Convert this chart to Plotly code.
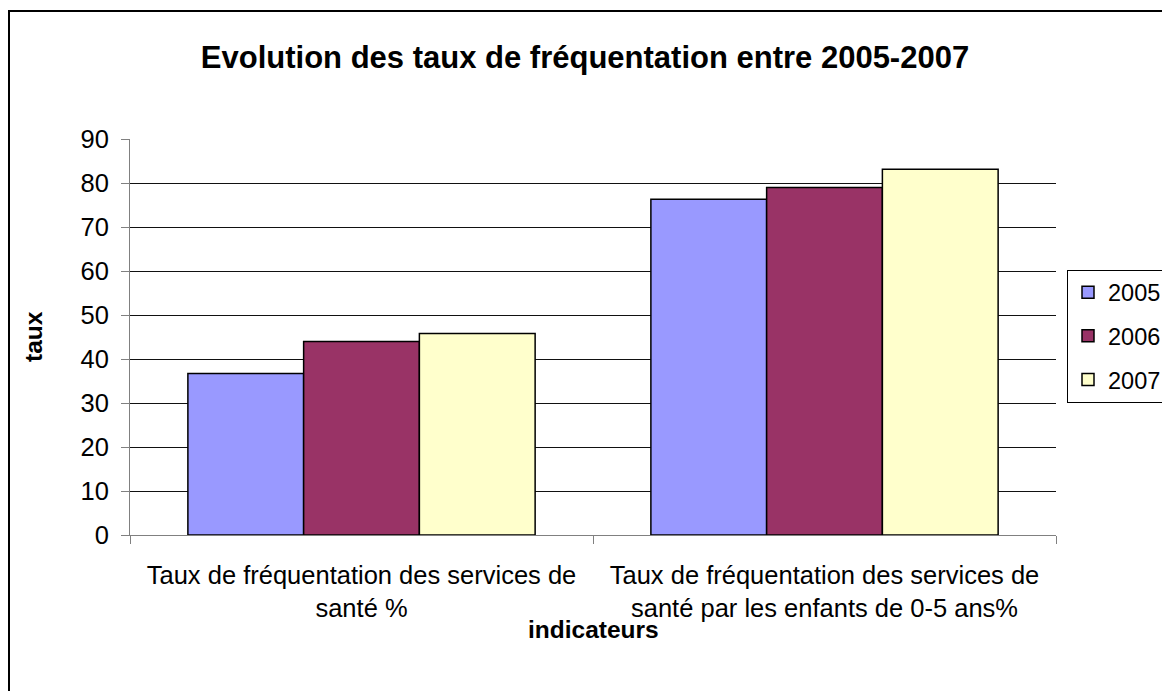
import plotly.graph_objects as go

categories = [
    "Taux de fréquentation des services de<br>santé %",
    "Taux de fréquentation des services de<br>santé par les enfants de 0-5 ans%",
]
years = ["2005", "2006", "2007"]
values_2005 = [36.7, 76.3]
values_2006 = [44.0, 79.0]
values_2007 = [45.8, 83.1]
colors = ["#9999FF", "#993366", "#FFFFCC"]
y_ticks = [0, 10, 20, 30, 40, 50, 60, 70, 80, 90]

FONT = "Liberation Sans, Arial, sans-serif"

fig = go.Figure()
for name, vals, col in zip(years, [values_2005, values_2006, values_2007], colors):
    fig.add_trace(go.Bar(
        x=categories, y=vals, name=name, legendgroup=name,
        marker=dict(color=col, line=dict(color="black", width=1.5)),
    ))

# page offset (browser body margin)
OFF = 8
PAGE_W, PAGE_H = 1170, 691
W, H = PAGE_W - OFF, PAGE_H - OFF
# plot area in page pixels
PL, PR, PT, PB = 130, 1056, 139, 535
L, R, T, B = PL - OFF, W - (PR - OFF), PT - OFF, H - (PB - OFF)
pw, ph = PR - PL, PB - PT

def px_x(p):
    return (p - PL) / pw

def px_y(p):
    return (PB - p) / ph

fig.update_layout(
    width=W, height=H,
    margin=dict(l=L, r=R, t=T, b=B, autoexpand=False),
    paper_bgcolor="white", plot_bgcolor="white",
    font=dict(family=FONT, size=25.5, color="black"),
    barmode="group", bargap=0.25, bargroupgap=0,
    title=dict(
        text="Evolution des taux de fréquentation entre 2005-2007",
        font=dict(size=31, weight="bold", family=FONT, color="black"),
        x=(585 - OFF) / W, xanchor="center", xref="container",
        y=1 - (57 - OFF) / H, yanchor="middle", yref="container",
    ),
    xaxis=dict(
        range=[-0.5, 1.5], showgrid=False, showline=True, linecolor="#808080",
        linewidth=1, ticks="outside", ticklen=8, tickcolor="#808080",
        tickson="boundaries", ticklabelstandoff=17,
        tickfont=dict(size=25.5),
    ),
    yaxis=dict(
        range=[0, 90], tickvals=y_ticks, showgrid=True, gridcolor="#111111",
        gridwidth=1, showline=True, linecolor="#808080", linewidth=1,
        ticks="outside", ticklen=8, tickcolor="#808080",
        ticklabelstandoff=7, zeroline=False, tickfont=dict(size=25.5),
    ),
    legend=dict(
        x=px_x(1067), xanchor="left", y=px_y(336), yanchor="middle",
        bordercolor="black", borderwidth=1, bgcolor="white",
        font=dict(size=23.5), traceorder="grouped", tracegroupgap=10,
    ),
    annotations=[
        dict(text="indicateurs", xref="paper", yref="paper",
             x=px_x(593), y=px_y(629), xanchor="center", yanchor="middle",
             showarrow=False, font=dict(size=24.5, weight="bold")),
        dict(text="taux", xref="paper", yref="paper",
             x=px_x(33), y=px_y(337), xanchor="center", yanchor="middle",
             showarrow=False, textangle=-90,
             font=dict(size=24.5, weight="bold")),
    ],
    shapes=[
        dict(type="rect", xref="paper", yref="paper",
             x0=px_x(9), y0=px_y(800), x1=px_x(1300), y1=px_y(11),
             line=dict(color="black", width=2), layer="below"),
    ],
)

fig.write_html("out.html")
